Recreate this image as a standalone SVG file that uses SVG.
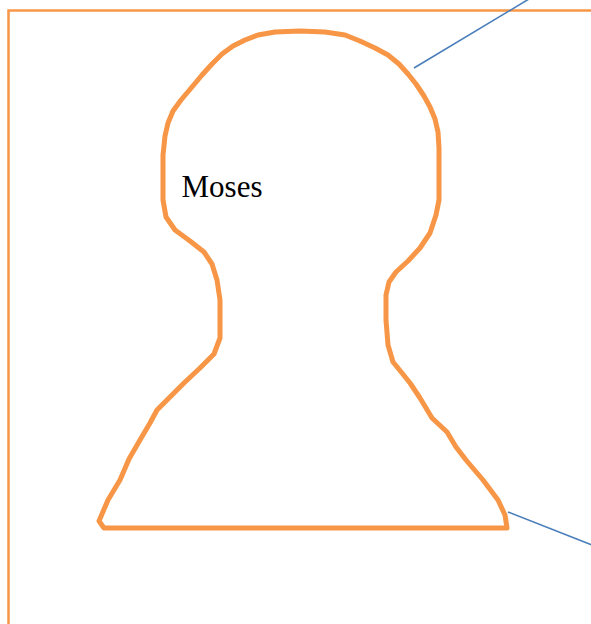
<svg xmlns="http://www.w3.org/2000/svg" width="591" height="624" viewBox="0 0 591 624">
  <style>
    .frame { fill: none; stroke: #F79646; stroke-width: 2.5; }
    .outline { fill: #FFFFFF; stroke: #F79646; stroke-width: 5; stroke-linejoin: round; }
    .label { font-family: "Liberation Serif", "Times New Roman", serif; font-size: 31px; fill: #000000; }
    .conn { stroke: #4A7EBB; stroke-width: 1.6; fill: none; }
  </style>
  <rect width="591" height="624" fill="#FFFFFF"/>
  <g id="frame">
    <rect class="frame" x="8.5" y="10.5" width="700" height="700"/>
  </g>
  <g id="moses">
    <path class="outline" d="M 104 528 L 507 528 L 505 515 L 498 500 L 483 480 L 466 460 L 456 447 L 447 432 L 432 418 L 420 398 L 410 383 L 402 373 L 393 362 L 388 345 L 386 320 L 386 295 L 389 282 L 396 272 L 408 261 L 420 248 L 430 233 L 436 215 L 439 200 L 439 148 L 438 132 L 435 119 L 430 107 L 424 96 L 416 84 L 408 74 L 399 64 L 388 55 L 375 48 L 360 41 L 345 35 L 325 32 L 300 31 L 275 32 L 258 35 L 245 40 L 233 46 L 222 54 L 212 64 L 202 75 L 192 87 L 181 100 L 173 111 L 168 123 L 165 136 L 163 155 L 163 200 L 166 217 L 175 230 L 190 241 L 204 252 L 212 264 L 217 280 L 220 300 L 220 338 L 214 354 L 200 368 L 184 383 L 168 399 L 157 410 L 150 423 L 140 440 L 129 459 L 120 480 L 108 500 L 99 521 Z"/>
    <text class="label" x="181.5" y="197">Moses</text>
  </g>
  <g id="connectors">
    <line class="conn" x1="414" y1="68" x2="529" y2="-1"/>
    <line class="conn" x1="508" y1="512" x2="592" y2="545"/>
  </g>
</svg>
